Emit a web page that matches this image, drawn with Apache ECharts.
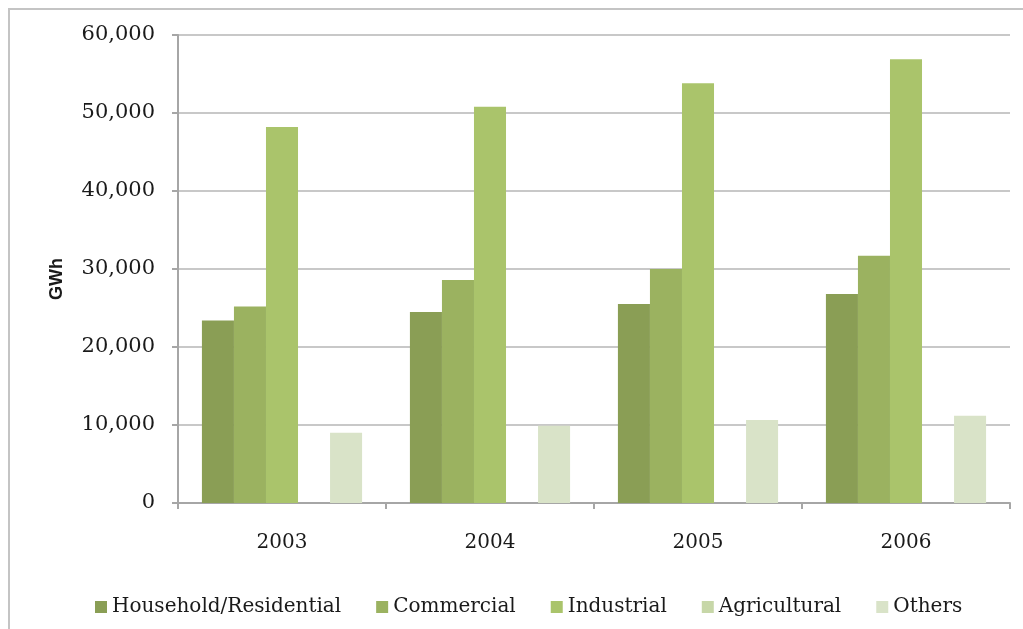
<!DOCTYPE html>
<html>
<head>
<meta charset="utf-8">
<script src="https://cdn.jsdelivr.net/npm/echarts@6/dist/echarts.min.js"></script>
<style>
html,body{margin:0;padding:0;background:#fff;}
#chart{width:1023px;height:629px;}
</style>
</head>
<body>
<div id="chart"></div>
<script>
const categories = ['2003', '2004', '2005', '2006'];
const seriesNames = ['Household/Residential', 'Commercial', 'Industrial', 'Agricultural', 'Others'];
const household = [23400, 24500, 25500, 26800];
const commercial = [25200, 28600, 30000, 31700];
const industrial = [48200, 50800, 53800, 56900];
const agricultural = [0, 0, 0, 0];
const others = [9000, 9900, 10650, 11200];
const yTicks = [0, 10000, 20000, 30000, 40000, 50000, 60000];

const colors = ['#8A9E55', '#9BB260', '#AAC46B', '#C7D7A8', '#D9E3C8'];
const values = [household, commercial, industrial, agricultural, others];

const chart = echarts.init(document.getElementById('chart'));
const serif = 'DejaVu Serif';
chart.setOption({
  animation: false,
  backgroundColor: '#fff',
  color: colors,
  graphic: [{
    type: 'rect',
    shape: {x: 9, y: 9, width: 1040, height: 660},
    style: {fill: 'none', stroke: '#c4c4c4', lineWidth: 2},
    silent: true
  }],
  grid: {left: 178, right: 13, top: 35, bottom: 126, containLabel: false},
  legend: {
    top: 592,
    left: 90,
    itemWidth: 12,
    itemHeight: 12,
    itemGap: 35,
    icon: 'rect',
    textStyle: {fontFamily: serif, fontSize: 20, color: '#1a1a1a'},
    data: seriesNames
  },
  xAxis: {
    type: 'category',
    data: categories,
    axisLine: {show: true, lineStyle: {color: '#a6a6a6', width: 2}},
    axisTick: {show: true, alignWithLabel: false, length: 6, lineStyle: {color: '#a6a6a6', width: 2}},
    axisLabel: {fontFamily: serif, fontSize: 20, color: '#1a1a1a', margin: 30}
  },
  yAxis: {
    type: 'value',
    min: yTicks[0],
    max: yTicks[yTicks.length - 1],
    interval: 10000,
    name: 'GWh',
    nameLocation: 'middle',
    nameGap: 112,
    nameRotate: 90,
    nameTextStyle: {fontFamily: 'Liberation Sans', fontWeight: 'bold', fontSize: 18, color: '#1a1a1a', padding: [0, 20, 0, 0]},
    axisLine: {show: true, lineStyle: {color: '#a6a6a6', width: 2}},
    axisTick: {show: true, length: 6, lineStyle: {color: '#a6a6a6', width: 2}},
    splitLine: {show: true, lineStyle: {color: '#c8c8c8', width: 2}},
    axisLabel: {
      fontFamily: serif, fontSize: 21, color: '#1a1a1a', margin: 23,
      formatter: v => v.toLocaleString('en-US')
    }
  },
  series: seriesNames.map((n, i) => ({
    name: n,
    type: 'bar',
    data: values[i],
    barGap: '0%',
    barCategoryGap: '23%',
    itemStyle: {color: colors[i]}
  }))
});
</script>
</body>
</html>
